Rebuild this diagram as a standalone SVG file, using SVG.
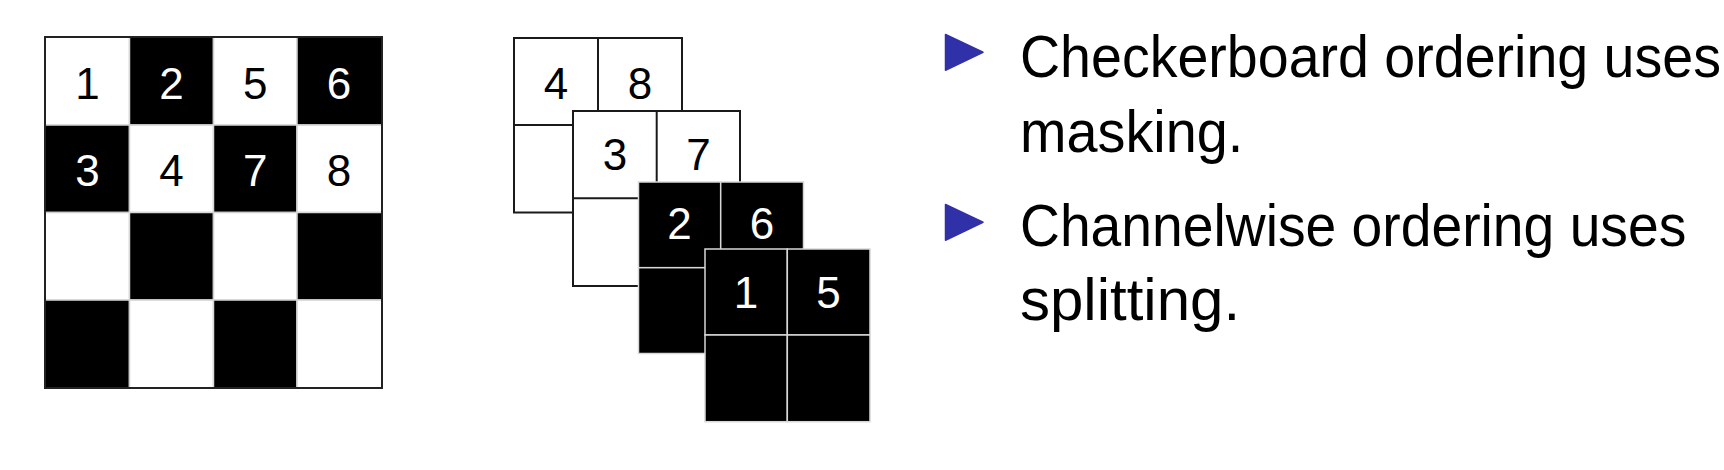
<svg xmlns="http://www.w3.org/2000/svg" width="1724" height="470" viewBox="0 0 1724 470">
<style>
  .w { fill: #ffffff; stroke: #cfcfcf; stroke-width: 1.5; }
  .b { fill: #000000; stroke: #d8d8d8; stroke-width: 1.5; }
  .num { font-family: "Liberation Sans", Arial, sans-serif; font-size: 44px; text-anchor: middle; }
  .nb { fill: #000000; }
  .nw { fill: #ffffff; }
  .lw { fill: #ffffff; stroke: #1a1a1a; stroke-width: 2; }
  .ln { stroke: #1a1a1a; stroke-width: 2; fill: none; }
  .txt { font-family: "Liberation Sans", Arial, sans-serif; font-size: 60px; fill: #000000; }
  .tri { fill: #3030A8; stroke: #3030A8; stroke-width: 1.5; stroke-linejoin: round; }
</style>
<rect width="1724" height="470" fill="#ffffff"/>

<g id="checkerboard">
  <rect x="45" y="37" width="84.5" height="88" class="w"/>
  <rect x="129.5" y="37" width="84" height="88" class="b"/>
  <rect x="213.5" y="37" width="83.5" height="88" class="w"/>
  <rect x="297" y="37" width="85" height="88" class="b"/>

  <rect x="45" y="125" width="84.5" height="87.5" class="b"/>
  <rect x="129.5" y="125" width="84" height="87.5" class="w"/>
  <rect x="213.5" y="125" width="83.5" height="87.5" class="b"/>
  <rect x="297" y="125" width="85" height="87.5" class="w"/>

  <rect x="45" y="212.5" width="84.5" height="87.5" class="w"/>
  <rect x="129.5" y="212.5" width="84" height="87.5" class="b"/>
  <rect x="213.5" y="212.5" width="83.5" height="87.5" class="w"/>
  <rect x="297" y="212.5" width="85" height="87.5" class="b"/>

  <rect x="45" y="300" width="84.5" height="88" class="b"/>
  <rect x="129.5" y="300" width="84" height="88" class="w"/>
  <rect x="213.5" y="300" width="83.5" height="88" class="b"/>
  <rect x="297" y="300" width="85" height="88" class="w"/>

  <rect x="45" y="37" width="337" height="351" fill="none" stroke="#222222" stroke-width="2"/>

  <text x="87.5" y="98.5" class="num nb">1</text>
  <text x="171.5" y="98.5" class="num nw">2</text>
  <text x="255.3" y="98.5" class="num nb">5</text>
  <text x="339" y="98.5" class="num nw">6</text>
  <text x="87.5" y="186" class="num nw">3</text>
  <text x="171.5" y="186" class="num nb">4</text>
  <text x="255.3" y="186" class="num nw">7</text>
  <text x="339" y="186" class="num nb">8</text>
</g>

<g id="channel-1">
  <rect x="514" y="38" width="168" height="174.5" class="lw"/>
  <line x1="598" y1="38" x2="598" y2="125" class="ln"/>
  <line x1="514" y1="125" x2="682" y2="125" class="ln"/>
  <text x="556" y="99" class="num nb">4</text>
  <text x="640" y="99" class="num nb">8</text>
</g>

<g id="channel-2">
  <rect x="573" y="111" width="167" height="175" class="lw"/>
  <line x1="656.7" y1="111" x2="656.7" y2="198.3" class="ln"/>
  <line x1="573" y1="198.3" x2="740" y2="198.3" class="ln"/>
  <text x="615" y="170" class="num nb">3</text>
  <text x="698.5" y="170" class="num nb">7</text>
</g>

<g id="channel-3">
  <rect x="638.5" y="182" width="82.2" height="85.7" class="b"/>
  <rect x="720.7" y="182" width="82.8" height="85.7" class="b"/>
  <rect x="638.5" y="267.7" width="82.2" height="85.8" class="b"/>
  <rect x="720.7" y="267.7" width="82.8" height="85.8" class="b"/>
  <text x="679.5" y="239.3" class="num nw">2</text>
  <text x="762" y="239.3" class="num nw">6</text>
</g>

<g id="channel-4">
  <rect x="705" y="249" width="82.3" height="86" class="b"/>
  <rect x="787.3" y="249" width="82.7" height="86" class="b"/>
  <rect x="705" y="335" width="82.3" height="86.7" class="b"/>
  <rect x="787.3" y="335" width="82.7" height="86.7" class="b"/>
  <text x="746" y="308" class="num nw">1</text>
  <text x="828.6" y="308" class="num nw">5</text>
</g>

<g id="bullet-1">
  <polygon points="945.5,34.5 983,52.3 945.5,70.2" class="tri"/>
  <text transform="translate(1020,76.7) scale(0.926,1)" class="txt">Checkerboard ordering uses</text>
  <text transform="translate(1020,151.5) scale(0.93,1)" class="txt">masking.</text>
</g>

<g id="bullet-2">
  <polygon points="945.5,204.5 983,222.3 945.5,240.2" class="tri"/>
  <text transform="translate(1020,245.7) scale(0.921,1)" class="txt">Channelwise ordering uses</text>
  <text transform="translate(1020,320) scale(1,1)" class="txt">splitting.</text>
</g>
</svg>
